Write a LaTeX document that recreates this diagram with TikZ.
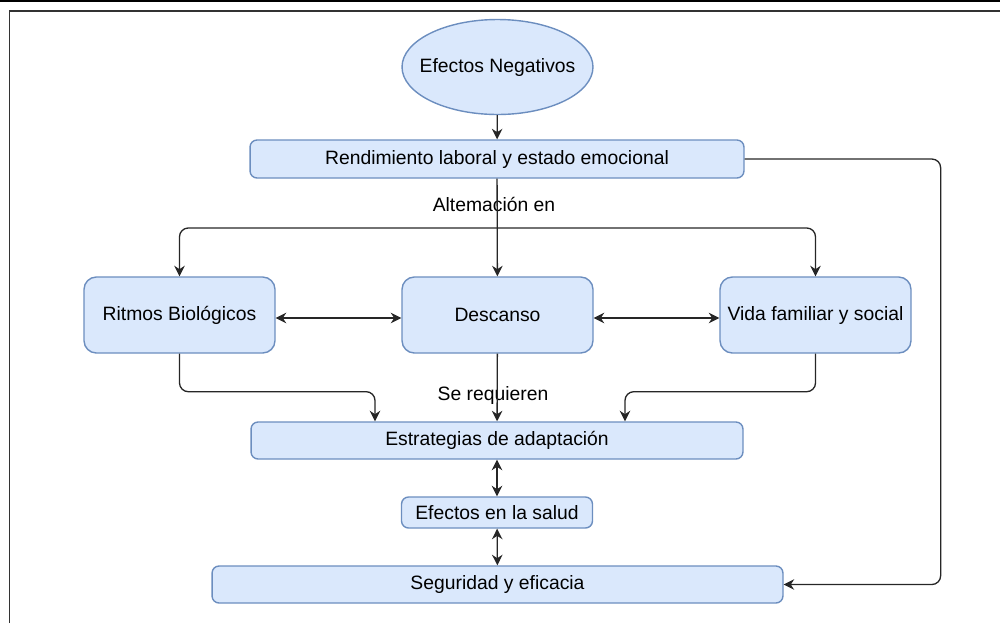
\documentclass[tikz,border=0pt]{standalone}
\usepackage{fontspec}
\setmainfont{Liberation Sans}
\usetikzlibrary{arrows.meta,calc,shapes.geometric}
\definecolor{boxfill}{HTML}{DAE8FC}
\definecolor{boxline}{HTML}{6C8EBF}

\begin{document}
\begin{tikzpicture}[x=0.02cm,y=-0.02cm,
  flowbox/.style={draw=boxline,fill=boxfill,line width=0.8pt,rounded corners=4pt,
    inner sep=0pt,font=\fontsize{11}{13}\selectfont},
  bigbox/.style={flowbox,rounded corners=7pt,minimum width=3.82cm,minimum height=1.52cm},
  ovalbox/.style={flowbox,ellipse,minimum width=3.82cm,minimum height=1.9cm},
  edgetext/.style={inner sep=1pt,font=\fontsize{11}{13}\selectfont},
  conn/.style={-{Stealth[length=6pt,width=6pt]},line width=0.75pt,draw=black!85,rounded corners=5pt},
  dconn/.style={conn,{Stealth[length=6pt,width=6pt]}-{Stealth[length=6pt,width=6pt]}}]

\useasboundingbox (0,0) rectangle (1000,623);

% Frame
\draw[line width=1.5pt] (0,1) -- (1000,1);
\draw[line width=0.9pt,black!80] (9.5,623) -- (9.5,11) -- (1000,11);

% Nodes
\node[ovalbox] (efneg) at (497.5,67) {\makebox[2cm]{Efectos Negativos}};
\node[flowbox,minimum width=9.88cm,minimum height=0.76cm] (rend) at (497,159)
  {Rendimiento laboral y estado emocional};
\node[bigbox] (ritmos) at (179.5,315) {Ritmos Biológicos};
\node[bigbox] (desc) at (497.5,315) {Descanso};
\node[bigbox] (vida) at (815.5,315) {Vida familiar y social};
\node[flowbox,minimum width=9.84cm,minimum height=0.74cm] (estr) at (497,440.5)
  {Estrategias de adaptación};
\node[flowbox,minimum width=3.82cm,minimum height=0.62cm] (salud) at (497,512.5)
  {Efectos en la salud};
\node[flowbox,minimum width=11.42cm,minimum height=0.74cm] (segur) at (497.5,584.5)
  {Seguridad y eficacia};

% Edge labels
\node[edgetext] (alt) at (494,204) {Altemación en};
\node[edgetext] (sereq) at (493,395) {Se requieren};

% Top connectors
\draw[conn] (efneg) -- (rend);
\draw[conn] (rend) -- (desc);
\coordinate (split) at (497,228);
\draw[conn] (split) -| (ritmos.north);
\draw[conn] (split) -| (vida.north);

% Middle row
\draw[dconn] ([yshift=-0.06cm]ritmos.east) -- ([yshift=-0.06cm]desc.west);
\draw[dconn] ([yshift=-0.06cm]desc.east) -- ([yshift=-0.06cm]vida.west);

% To the strategies
\draw[conn] (ritmos.south) -- ++(0,38) -| ($(estr.north)+(-122,0)$);
\draw[conn] (desc) -- (estr);
\draw[conn] (vida.south) -- ++(0,38) -| ($(estr.north)+(128,0)$);

% Bottom chain
\draw[dconn] (estr) -- (salud);
\draw[dconn] (salud) -- (segur);

% Right side return
\draw[conn] (rend.east) -- ++(196,0) |- (segur.east);

\end{tikzpicture}
\end{document}
